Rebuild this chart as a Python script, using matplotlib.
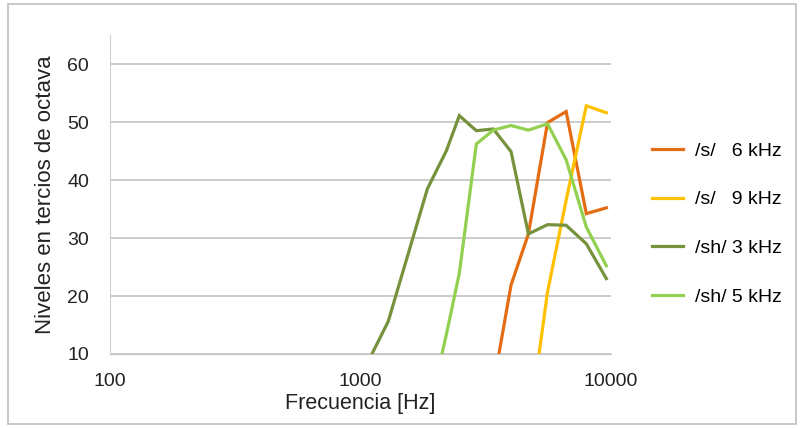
import matplotlib
matplotlib.use('Agg')
import matplotlib.pyplot as plt
from matplotlib.patches import Rectangle
import numpy as np

plt.rcParams['font.family'] = ['Liberation Sans', 'DejaVu Sans']

# frequencies (Hz) where the curves have points
freqs = [1070, 1290, 1850, 2200, 2480, 2900, 3390, 3990, 4680, 5580, 6620, 7970, 9580]
nan = np.nan
s_6k = [nan, nan, nan, nan, nan, nan, 4.5, 21.9, 30.7, 49.9, 51.8, 34.2, 35.2]
s_9k = [nan, nan, nan, nan, nan, nan, nan, nan, -3.4, 20.7, 36.5, 52.8, 51.6]
sh_3k = [8.6, 15.6, 38.5, 45.0, 51.1, 48.5, 48.8, 44.9, 30.7, 32.3, 32.2, 29.0, 23.0]
sh_5k = [nan, nan, -1.0, 13.3, 23.9, 46.2, 48.6, 49.4, 48.6, 49.7, 43.5, 31.9, 25.2]

labels = ['/s/   6 kHz', '/s/   9 kHz', '/sh/ 3 kHz', '/sh/ 5 kHz']
colors = ['#E46C12', '#FFC000', '#76923C', '#92D050']
series = [s_6k, s_9k, sh_3k, sh_5k]

fig = plt.figure(figsize=(8, 4.28), dpi=100)
ax = fig.add_axes([0.1375, 0.1729, 0.62625, 0.7453])

for vals, lab, col in zip(series, labels, colors):
    ax.plot(freqs, vals, color=col, lw=2.3, label=lab, solid_joinstyle='miter')

ax.set_xscale('log')
ax.set_xlim(100, 10000)
ax.set_ylim(10, 65)
ax.set_xticks([100, 1000, 10000])
ax.set_xticklabels(['100', '1000', '10000'])
ax.minorticks_off()
ax.set_yticks([10, 20, 30, 40, 50, 60])
ax.yaxis.grid(True, color='#c4c4c4', lw=1.2)
ax.set_axisbelow(True)
ax.tick_params(length=0, labelsize=14, colors='#222222')
ax.tick_params(axis='x', pad=14)
ax.tick_params(axis='y', pad=15)
for side in ['top', 'right']:
    ax.spines[side].set_visible(False)
ax.spines['left'].set_color('#d0d0d0')
ax.spines['bottom'].set_color('#c4c4c4')

ax.set_xlabel('Frecuencia [Hz]', fontsize=15.5, color='#222222', labelpad=2)
ax.set_ylabel('Niveles en tercios de octava', fontsize=16, color='#222222', labelpad=8)

fig.legend(loc='upper left', bbox_to_anchor=(652 / 800, 1 - 142 / 428),
           frameon=False, fontsize=14, handlelength=1.6, handletextpad=0.6,
           labelspacing=1.6, borderpad=0, borderaxespad=0)

fig.patches.append(Rectangle((8 / 800, 4 / 428), 788 / 800, 420 / 428,
                             transform=fig.transFigure, fill=False,
                             edgecolor='#bfbfbf', lw=1.2))

fig.savefig('out.png', dpi=100)
